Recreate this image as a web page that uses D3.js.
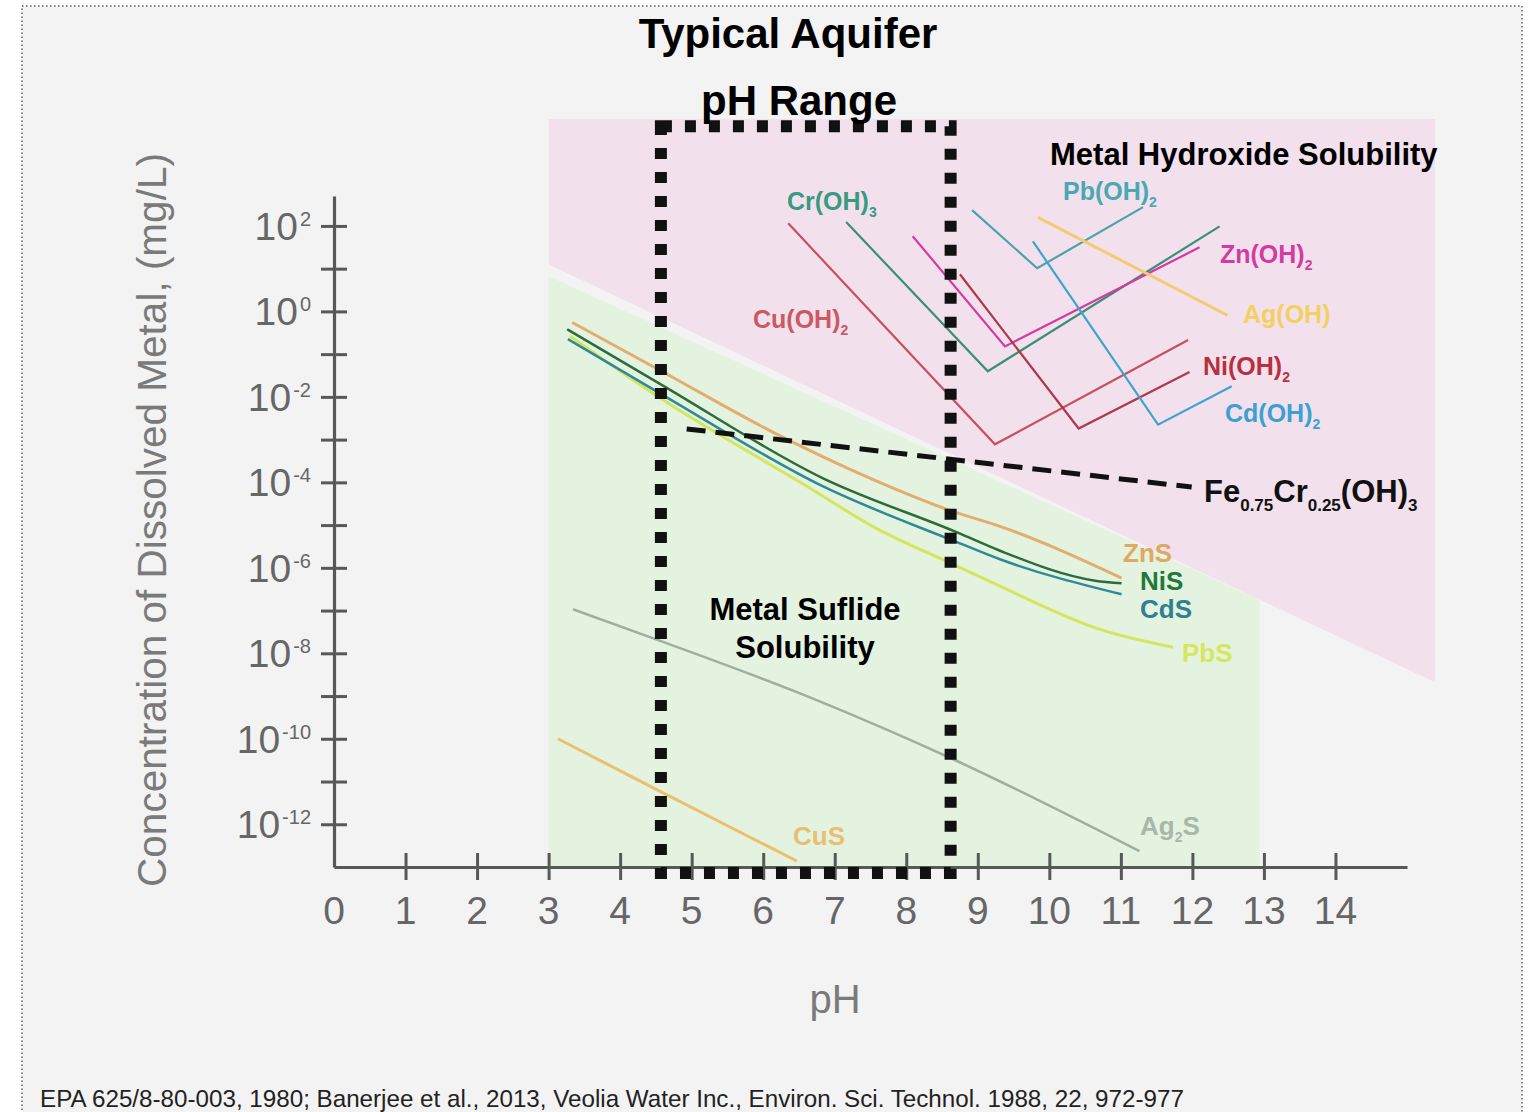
<!DOCTYPE html>
<html>
<head>
<meta charset="utf-8">
<script src="https://cdn.jsdelivr.net/npm/d3@7"></script>
<style>
  html, body { margin: 0; padding: 0; background: #ffffff; }
  svg { display: block; }
  text { font-family: "Liberation Sans", Arial, Helvetica, sans-serif; }
</style>
</head>
<body>
<svg id="chart" width="1529" height="1112"></svg>
<script>
// ---- axis ticks ----
const phTicks = d3.range(1, 15);
const phTickLabels = d3.range(0, 15);
const majorExponents = [2, 0, -2, -4, -6, -8, -10, -12];
const minorExponents = [1, -1, -3, -5, -7, -9, -11];

// ---- shaded regions, [pH, log10 concentration] ----
const hydroxideRegion = [[3, 4.5], [15.39, 4.5], [15.39, -8.68], [3, 1.10]];
const sulfideRegion = [[3, 0.82], [12.94, -6.75], [12.94, -13], [3, -13]];
const aquiferPH = [4.57, 8.62];
const aquiferLog = [4.33, -13.14];

// ---- metal hydroxide solubility, [pH, log10 mg/L] ----
const crOH3 = [[7.16, 2.09], [9.14, -1.40], [12.38, 1.99]];
const pbOH2 = [[8.92, 2.37], [9.83, 1.01], [11.31, 2.44]];
const cuOH2 = [[6.35, 2.06], [9.24, -3.11], [11.94, -0.67]];
const znOH2 = [[8.09, 1.76], [9.38, -0.82], [12.10, 1.50]];
const niOH2 = [[8.75, 0.87], [10.41, -2.74], [11.96, -1.42]];
const cdOH2 = [[9.77, 1.64], [11.52, -2.65], [12.55, -1.75]];
const agOH = [[9.84, 2.20], [12.49, -0.09]];
const feCrOH3 = [[4.93, -2.75], [11.99, -4.11]];

// ---- metal sulfide solubility, [pH, log10 mg/L] ----
const znS = [[3.33, -0.26], [4.58, -1.40], [6.14, -2.83], [7.53, -3.93], [8.65, -4.68], [9.31, -5.03], [11.01, -6.24]];
const niS = [[3.26, -0.42], [4.58, -1.72], [6.83, -3.90], [8.71, -5.17], [9.31, -5.60], [10.64, -6.30], [11.01, -6.36]];
const cdS = [[3.27, -0.65], [4.58, -1.94], [6.83, -4.09], [8.71, -5.40], [9.31, -5.80], [11.01, -6.62]];
const pbS = [[3.30, -0.58], [4.58, -2.05], [6.61, -4.09], [7.53, -5.03], [8.71, -5.96], [9.31, -6.43], [10.71, -7.44], [11.73, -7.86]];
const ag2S = [[3.34, -6.97], [4.58, -7.72], [6.61, -9.00], [8.71, -10.52], [11.26, -12.63]];
const cuS = [[3.13, -10.0], [4.58, -11.25], [6.47, -12.86]];

const svg = d3.select("#chart");
const W = 1529, H = 1112;

// panel background and dotted frame
svg.append("rect").attr("x", 22).attr("y", 6).attr("width", 1500).attr("height", H + 20)
  .attr("fill", "#f3f3f3").attr("stroke", "#555").attr("stroke-width", 1.4)
  .attr("stroke-dasharray", "1.5,2.5");

const x = d3.scaleLinear().domain([0, 15]).range([334, 1407]);
const y = d3.scaleLog().domain([1e-13, Math.pow(10, 2.7)]).range([867, 196]);
const px = d => x(d[0]);
const py = d => y(Math.pow(10, d[1]));

const poly = pts => "M" + pts.map(d => px(d) + "," + py(d)).join("L") + "Z";

svg.append("path").attr("d", poly(hydroxideRegion)).attr("fill", "#f2e1ed");
svg.append("path").attr("d", poly(sulfideRegion)).attr("fill", "#e3f3e0");

const straight = d3.line().x(px).y(py);
const smooth = d3.line().x(px).y(py).curve(d3.curveMonotoneX);

const hydroxides = [
  { data: crOH3, color: "#3b8f76", w: 2.2 },
  { data: pbOH2, color: "#4aa3aa", w: 2.2 },
  { data: cuOH2, color: "#c8505e", w: 2.2 },
  { data: znOH2, color: "#d43a9f", w: 2.2 },
  { data: niOH2, color: "#ad3a4c", w: 2.2 },
  { data: cdOH2, color: "#3fa3cf", w: 2.2 },
  { data: agOH, color: "#f4cb70", w: 3 }
];
const sulfides = [
  { data: ag2S, color: "#9db09f", w: 2.5 },
  { data: cuS, color: "#ebbf6c", w: 3 },
  { data: pbS, color: "#d4e55e", w: 3 },
  { data: znS, color: "#e3ad6e", w: 3 },
  { data: cdS, color: "#2f8a96", w: 2.5 },
  { data: niS, color: "#2a6c3c", w: 2.5 }
];

svg.append("g").selectAll("path").data(hydroxides).join("path")
  .attr("d", s => straight(s.data)).attr("fill", "none")
  .attr("stroke", s => s.color).attr("stroke-width", s => s.w);

svg.append("g").selectAll("path").data(sulfides).join("path")
  .attr("d", s => smooth(s.data)).attr("fill", "none")
  .attr("stroke", s => s.color).attr("stroke-width", s => s.w)
  .attr("stroke-linejoin", "round");

// mixed iron-chromium hydroxide
svg.append("path").attr("d", straight(feCrOH3)).attr("fill", "none")
  .attr("stroke", "#111").attr("stroke-width", 5).attr("stroke-dasharray", "19,10");

// ---- axes ----
const axisColor = "#585858";
const gx = svg.append("g").attr("transform", `translate(0,${y(1e-13)})`)
  .call(d3.axisBottom(x).tickValues(phTicks).tickSize(13).tickSizeOuter(0).tickFormat(""));
gx.selectAll(".tick line").attr("y1", -14).attr("y2", 13);

const allExp = majorExponents.concat(minorExponents).map(e => Math.pow(10, e));
const gy = svg.append("g").attr("transform", `translate(${x(0)},0)`)
  .call(d3.axisLeft(y).tickValues(allExp).tickSize(13).tickSizeOuter(0).tickFormat(""));
gy.selectAll(".tick line").attr("x1", -13).attr("x2", 13);

[gx, gy].forEach(g => {
  g.select(".domain").attr("stroke", axisColor).attr("stroke-width", 3.2);
  g.selectAll(".tick line").attr("stroke", axisColor).attr("stroke-width", 3);
});

// y tick labels with superscript exponents
const yLab = svg.append("g").attr("fill", "#666").style("font-size", "39px");
majorExponents.forEach(e => {
  const t = yLab.append("text").attr("x", 311).attr("y", y(Math.pow(10, e)) + 14)
    .attr("text-anchor", "end");
  t.append("tspan").text("10");
  t.append("tspan").attr("dx", 2).attr("dy", -14).style("font-size", "20px")
    .text(e < 0 ? "-" + Math.abs(e) : String(e));
});

// x tick labels
svg.append("g").attr("fill", "#666").style("font-size", "39px")
  .selectAll("text").data(phTickLabels).join("text")
  .attr("x", d => x(d)).attr("y", 924).attr("text-anchor", "middle").text(d => d);

// axis titles
svg.append("text").attr("transform", `translate(166,${(145 + 895) / 2}) rotate(-90)`)
  .attr("text-anchor", "middle").attr("fill", "#7a7a7a").style("font-size", "40.5px")
  .text("Concentration of Dissolved Metal, (mg/L)");
svg.append("text").attr("x", 835).attr("y", 1013).attr("text-anchor", "middle")
  .attr("fill", "#7a7a7a").style("font-size", "40px").text("pH");

// typical aquifer pH range
svg.append("rect")
  .attr("x", x(aquiferPH[0])).attr("y", py([0, aquiferLog[0]]))
  .attr("width", x(aquiferPH[1]) - x(aquiferPH[0]))
  .attr("height", py([0, aquiferLog[1]]) - py([0, aquiferLog[0]]))
  .attr("fill", "none").attr("stroke", "#111").attr("stroke-width", 12)
  .attr("stroke-dasharray", "11,13");

// ---- text labels ----
function rich(g, xx, yy, parts, size, color, anchor) {
  const t = g.append("text").attr("x", xx).attr("y", yy).attr("fill", color)
    .style("font-size", size + "px").style("font-weight", "bold")
    .attr("text-anchor", anchor || "start");
  let shifted = 0;
  parts.forEach(p => {
    const sub = typeof p !== "string";
    const s = t.append("tspan").text(sub ? p.sub : p);
    const target = sub ? Math.round(size * 0.28) : 0;
    if (target !== shifted) { s.attr("dy", target - shifted); shifted = target; }
    if (sub) s.style("font-size", Math.round(size * 0.55) + "px");
  });
  return t;
}

const L = svg.append("g");
rich(L, 787, 210, ["Cr(OH)", { sub: "3" }], 25, "#3a9a80");
rich(L, 1063, 200, ["Pb(OH)", { sub: "2" }], 25, "#4aa8b2");
rich(L, 753, 328, ["Cu(OH)", { sub: "2" }], 25, "#cc5864");
rich(L, 1220, 263, ["Zn(OH)", { sub: "2" }], 25, "#d23ca2");
rich(L, 1243, 323, ["Ag(OH)"], 25, "#f2d062");
rich(L, 1203, 375, ["Ni(OH)", { sub: "2" }], 25, "#b8303f");
rich(L, 1225, 422, ["Cd(OH)", { sub: "2" }], 25, "#3ca0d2");
rich(L, 1204, 502, ["Fe", { sub: "0.75" }, "Cr", { sub: "0.25" }, "(OH)", { sub: "3" }], 31, "#111");

rich(L, 1123, 562, ["ZnS"], 26, "#e0a862");
rich(L, 1140, 590, ["NiS"], 26, "#1f7a3a");
rich(L, 1140, 618, ["CdS"], 26, "#2e7f92");
rich(L, 1182, 662, ["PbS"], 26, "#d6e65e");
rich(L, 793, 845, ["CuS"], 26, "#e8c072");
rich(L, 1140, 835, ["Ag", { sub: "2" }, "S"], 26, "#a8b8a8");

rich(L, 788, 48, ["Typical Aquifer"], 42, "#000", "middle");
rich(L, 799, 115, ["pH Range"], 42, "#000", "middle");
rich(L, 1050, 165, ["Metal Hydroxide Solubility"], 31, "#000");
rich(L, 805, 620, ["Metal Suflide"], 31, "#000", "middle");
rich(L, 805, 658, ["Solubility"], 31, "#000", "middle");

svg.append("text").attr("x", 40).attr("y", 1107).attr("fill", "#222")
  .style("font-size", "24.2px")
  .text("EPA 625/8-80-003, 1980; Banerjee et al., 2013, Veolia Water Inc., Environ. Sci. Technol. 1988, 22, 972-977");
</script>
</body>
</html>
